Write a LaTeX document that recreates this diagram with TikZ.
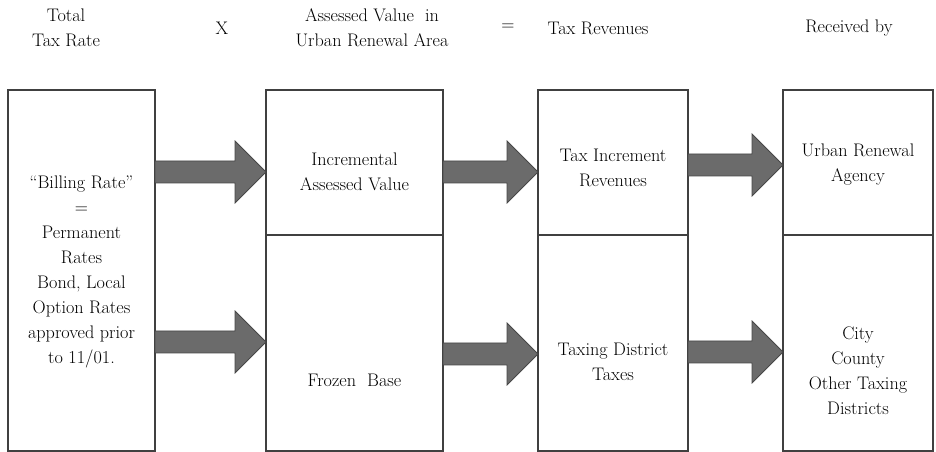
\documentclass[tikz,border=0pt]{standalone}
\usetikzlibrary{calc}
\tikzset{
  x=1bp, y=-1bp,
  box/.style={draw=black!75, line width=1.3bp, inner sep=0pt, outer sep=0pt},
  txt/.style={align=center, inner sep=0pt, font=\fontsize{18.2bp}{25bp}\selectfont},
  arr/.style={fill=black!58, draw=black!72, line width=0.8bp, line join=miter},
}
\newcommand\bigarr[2]{% #1 start coordinate name, #2 tip coordinate name
  \path let \p1=(#1), \p2=(#2) in
    [arr] (\x1,\y1+11bp) -- (\x2-31bp,\y1+11bp) -- (\x2-31bp,\y1+31bp) -- (\x2,\y2)
    -- (\x2-31bp,\y1-31bp) -- (\x2-31bp,\y1-11bp) -- (\x1,\y1-11bp) -- cycle;}
\begin{document}
\begin{tikzpicture}
\useasboundingbox (0,0) rectangle (936,452);
% headers
\node[txt] (h1) at (66,28) {Total\\Tax Rate};
\node[txt] (h2) at (222,28) {X};
\node[txt] (h3) at (372,28) {Assessed Value\ \ in\\Urban Renewal Area};
\node[txt] (h4) at (508,27) {=};
\node[txt] (h5) at (598,28) {Tax Revenues};
\node[txt] (h6) at (849,28) {Received by};
% boxes
\node[box, minimum width=147bp, minimum height=361bp] (b1) at (81.5,270.5) {};
\node[box, minimum width=177bp, minimum height=145bp] (b2t) at (354.5,162.5) {};
\node[box, minimum width=177bp, minimum height=216bp] (b2b) at (354.5,343) {};
\node[box, minimum width=150bp, minimum height=145bp] (b3t) at (613,162.5) {};
\node[box, minimum width=150bp, minimum height=216bp] (b3b) at (613,343) {};
\node[box, minimum width=150bp, minimum height=145bp] (b4t) at (858,162.5) {};
\node[box, minimum width=150bp, minimum height=216bp] (b4b) at (858,343) {};
% box texts
\node[txt] (t1) at (81.5,272) {``Billing Rate''\\=\\Permanent\\Rates\\Bond, Local\\Option Rates\\approved prior\\to 11/01.};
\node[txt] (t2t) at (354.5,172) {Incremental\\Assessed Value};
\node[txt] (t2b) at (354.5,380) {Frozen\ \ Base};
\node[txt] (t3t) at (613,168) {Tax Increment\\Revenues};
\node[txt] (t3b) at (613,362) {Taxing District\\Taxes};
\node[txt] (t4t) at (858,165) {Urban Renewal\\Agency};
\node[txt] (t4b) at (858,371) {City\\County\\Other Taxing\\Districts};
% arrow anchor coordinates
\coordinate (a1s) at (b1.east |- 0,172);
\coordinate (a1e) at (b2t.west |- 0,172);
\coordinate (a2s) at (b2t.east |- 0,172);
\coordinate (a2e) at (b3t.west |- 0,172);
\coordinate (a3s) at (b3t.east |- 0,165);
\coordinate (a3e) at (b4t.west |- 0,165);
\coordinate (a4s) at (b1.east |- 0,342);
\coordinate (a4e) at (b2b.west |- 0,342);
\coordinate (a5s) at (b2b.east |- 0,354);
\coordinate (a5e) at (b3b.west |- 0,354);
\coordinate (a6s) at (b3b.east |- 0,352);
\coordinate (a6e) at (b4b.west |- 0,352);
\bigarr{a1s}{a1e}
\bigarr{a2s}{a2e}
\bigarr{a3s}{a3e}
\bigarr{a4s}{a4e}
\bigarr{a5s}{a5e}
\bigarr{a6s}{a6e}
\end{tikzpicture}
\end{document}
